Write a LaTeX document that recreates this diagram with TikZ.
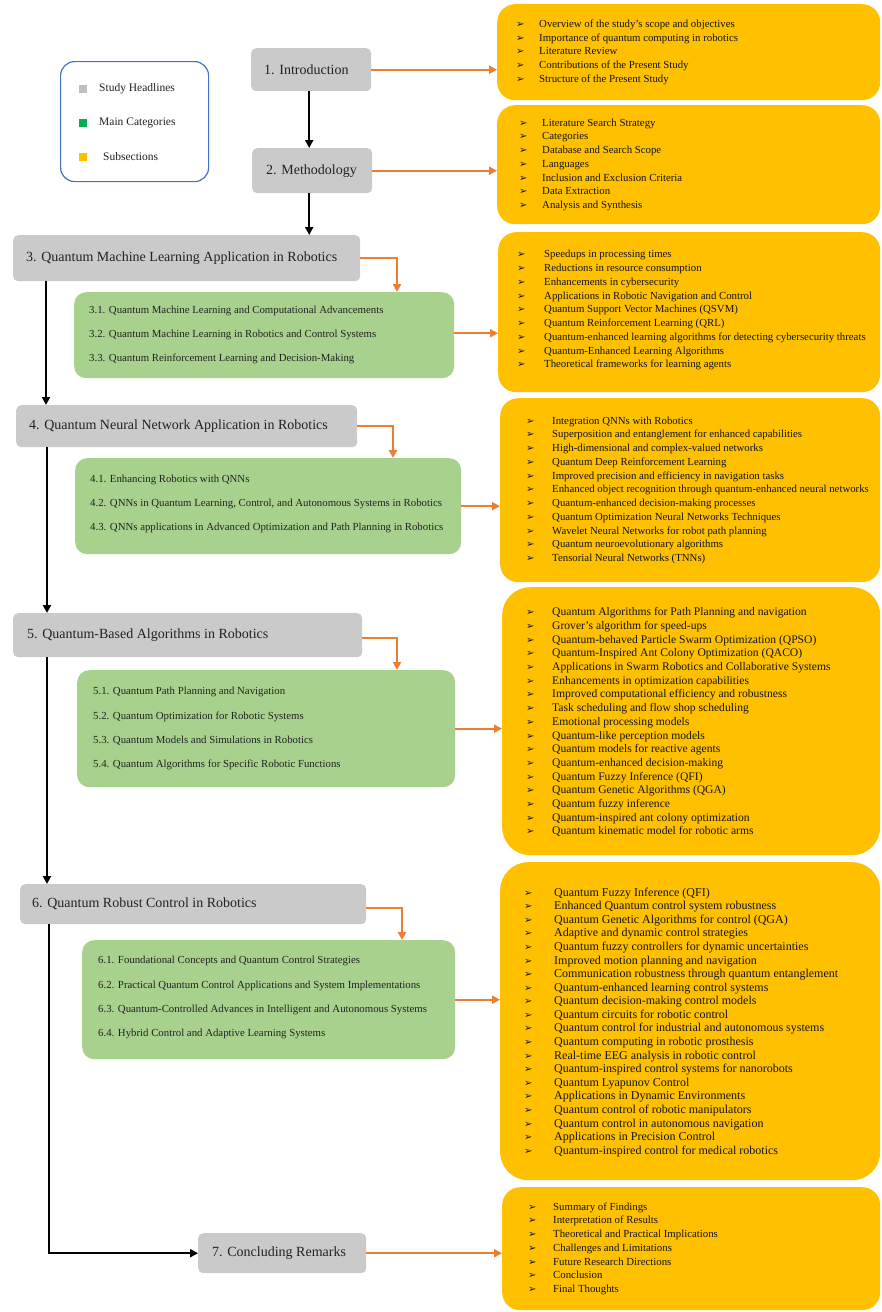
\documentclass[tikz,border=0pt]{standalone}
\usepackage{fontspec}
\setmainfont{Liberation Serif}
\newfontfamily\bulfont{DejaVu Sans}
\usetikzlibrary{arrows.meta}

\definecolor{hdgray}{HTML}{CACACA}
\definecolor{catgreen}{HTML}{A9D18E}
\definecolor{subamber}{HTML}{FFC000}
\definecolor{linkorange}{HTML}{ED7D31}
\definecolor{legblue}{HTML}{4472C4}
\definecolor{legsq}{HTML}{BFBFBF}
\definecolor{leggreen}{HTML}{00B050}
\definecolor{inkgray}{HTML}{222222}

% width reserved for the arrowhead bullet in front of each list entry
\newlength\bulw
\newcommand\itm{\makebox[\bulw][l]{\bulfont\fontsize{10}{10}\selectfont ➢}}

\tikzset{
  hbox/.style={fill=hdgray, rounded corners=5pt, inner sep=0pt, anchor=north west},
  gbox/.style={fill=catgreen, rounded corners=12pt, inner sep=0pt, anchor=north west},
  obox/.style={fill=subamber, rounded corners=18pt, inner sep=0pt, anchor=north west},
  htext/.style={font=\fontsize{14}{16}\selectfont, text=inkgray, anchor=west, inner sep=0pt},
  gtext/.style={font=\fontsize{10.8}{24.2}\selectfont, text=inkgray, align=left, anchor=west, inner sep=0pt},
  otext/.style={font=\fontsize{10.8}{13.75}\selectfont, text=black!92, align=left, anchor=west, inner sep=0pt},
  ltext/.style={font=\fontsize{11.5}{13}\selectfont, text=inkgray, anchor=west, inner sep=0pt},
  legsquare/.style={minimum size=8pt, inner sep=0pt},
  down/.style={black, line width=2pt, -{Triangle[length=8pt,width=8pt]}},
  link/.style={linkorange, line width=2.2pt, -{Triangle[length=8pt,width=8pt]}},
}

\begin{document}
\begin{tikzpicture}[x=1pt, y=-1pt]
\useasboundingbox (0,0) rectangle (882,1312);
\fill[white] (0,0) rectangle (882,1312);

% ---------- legend ----------
\node[draw=legblue, line width=1.2pt, rounded corners=14pt, minimum width=148pt,
      minimum height=120pt, anchor=north west] (legend) at (60,61) {};
\node[legsquare, fill=legsq]    (sqH) at (83,89)  {};
\node[legsquare, fill=leggreen] (sqC) at (83,123) {};
\node[legsquare, fill=subamber] (sqS) at (83,157) {};
\node[ltext] (lgH) at (99,89)  {Study Headlines};
\node[ltext] (lgC) at (99,123) {Main Categories};
\node[ltext] (lgS) at (103,157) {Subsections};

% ---------- study headlines ----------
\node[hbox, minimum width=120pt, minimum height=43pt] (intro) at (251,48) {};
\node[htext] (introT) at ([xshift=13pt]intro.west) {1. Introduction};
\node[hbox, minimum width=120pt, minimum height=45pt] (meth) at (252,148) {};
\node[htext] (methT) at ([xshift=14pt]meth.west) {2. Methodology};
\node[hbox, minimum width=347pt, minimum height=46pt] (b3) at (13,235) {};
\node[htext] (b3T) at ([xshift=13pt]b3.west) {3. Quantum Machine Learning Application in Robotics};
\node[hbox, minimum width=341pt, minimum height=42pt] (b4) at (16,405) {};
\node[htext] (b4T) at ([xshift=13pt]b4.west) {4. Quantum Neural Network Application in Robotics};
\node[hbox, minimum width=349pt, minimum height=44pt] (b5) at (13,613) {};
\node[htext] (b5T) at ([xshift=14pt]b5.west) {5. Quantum-Based Algorithms in Robotics};
\node[hbox, minimum width=346pt, minimum height=40pt] (b6) at (20,884) {};
\node[htext] (b6T) at ([xshift=12pt]b6.west) {6. Quantum Robust Control in Robotics};
\node[hbox, minimum width=168pt, minimum height=40pt] (b7) at (198,1233) {};
\node[htext] (b7T) at ([xshift=14pt]b7.west) {7. Concluding Remarks};

% ---------- main categories ----------
\node[gbox, minimum width=380pt, minimum height=86pt] (g3) at (74,292) {};
\node[gtext] (g3T) at ([xshift=15pt]g3.west) {%
3.1. Quantum Machine Learning and Computational Advancements\\
3.2. Quantum Machine Learning in Robotics and Control Systems\\
3.3. Quantum Reinforcement Learning and Decision-Making};

\node[gbox, minimum width=386pt, minimum height=96pt] (g4) at (75,458) {};
\node[gtext] (g4T) at ([xshift=15pt,yshift=2pt]g4.west) {%
4.1. Enhancing Robotics with QNNs\\
4.2. QNNs in Quantum Learning, Control, and Autonomous Systems in Robotics\\
4.3. QNNs applications in Advanced Optimization and Path Planning in Robotics};

\node[gbox, minimum width=378pt, minimum height=117pt] (g5) at (77,670) {};
\node[gtext] (g5T) at ([xshift=16pt]g5.west) {%
5.1. Quantum Path Planning and Navigation\\
5.2. Quantum Optimization for Robotic Systems\\
5.3. Quantum Models and Simulations in Robotics\\
5.4. Quantum Algorithms for Specific Robotic Functions};

\node[gbox, minimum width=373pt, minimum height=119pt] (g6) at (82,940) {};
\node[gtext] (g6T) at ([xshift=16pt,yshift=2pt]g6.west) {%
6.1. Foundational Concepts and Quantum Control Strategies\\
6.2. Practical Quantum Control Applications and System Implementations\\
6.3. Quantum-Controlled Advances in Intelligent and Autonomous Systems\\
6.4. Hybrid Control and Adaptive Learning Systems};

% ---------- subsections ----------
\node[obox, minimum width=383pt, minimum height=96pt] (o1) at (497,4) {};
\node[otext, execute at begin node={\setlength\bulw{23pt}}] (o1T) at ([xshift=19pt]o1.west) {%
\itm Overview of the study's scope and objectives\\
\itm Importance of quantum computing in robotics\\
\itm Literature Review\\
\itm Contributions of the Present Study\\
\itm Structure of the Present Study};

\node[obox, minimum width=383pt, minimum height=119pt] (o2) at (497,105) {};
\node[otext, execute at begin node={\setlength\bulw{23pt}}] (o2T) at ([xshift=22pt]o2.west) {%
\itm Literature Search Strategy\\
\itm Categories\\
\itm Database and Search Scope\\
\itm Languages\\
\itm Inclusion and Exclusion Criteria\\
\itm Data Extraction\\
\itm Analysis and Synthesis};

\node[obox, minimum width=382pt, minimum height=160pt] (o3) at (498,232) {};
\node[otext, execute at begin node={\setlength\bulw{27pt}}] (o3T) at ([xshift=19pt,yshift=2pt]o3.west) {%
\itm Speedups in processing times\\
\itm Reductions in resource consumption\\
\itm Enhancements in cybersecurity\\
\itm Applications in Robotic Navigation and Control\\
\itm Quantum Support Vector Machines (QSVM)\\
\itm Quantum Reinforcement Learning (QRL)\\
\itm Quantum-enhanced learning algorithms for detecting cybersecurity threats\\
\itm Quantum-Enhanced Learning Algorithms\\
\itm Theoretical frameworks for learning agents};

\node[obox, minimum width=380pt, minimum height=184pt] (o4) at (500,398) {};
\node[otext, execute at begin node={\setlength\bulw{26pt}}] (o4T) at ([xshift=26pt]o4.west) {%
\itm Integration QNNs with Robotics\\
\itm Superposition and entanglement for enhanced capabilities\\
\itm High-dimensional and complex-valued networks\\
\itm Quantum Deep Reinforcement Learning\\
\itm Improved precision and efficiency in navigation tasks\\
\itm Enhanced object recognition through quantum-enhanced neural networks\\
\itm Quantum-enhanced decision-making processes\\
\itm Quantum Optimization Neural Networks Techniques\\
\itm Wavelet Neural Networks for robot path planning\\
\itm Quantum neuroevolutionary algorithms\\
\itm Tensorial Neural Networks (TNNs)};

\node[obox, rounded corners=28pt, minimum width=378pt, minimum height=268pt] (o5) at (502,587) {};
\node[otext, font=\fontsize{11.6}{13.7}\selectfont, execute at begin node={\setlength\bulw{26pt}}] (o5T) at ([xshift=24pt,yshift=-1pt]o5.west) {%
\itm Quantum Algorithms for Path Planning and navigation\\
\itm Grover's algorithm for speed-ups\\
\itm Quantum-behaved Particle Swarm Optimization (QPSO)\\
\itm Quantum-Inspired Ant Colony Optimization (QACO)\\
\itm Applications in Swarm Robotics and Collaborative Systems\\
\itm Enhancements in optimization capabilities\\
\itm Improved computational efficiency and robustness\\
\itm Task scheduling and flow shop scheduling\\
\itm Emotional processing models\\
\itm Quantum-like perception models\\
\itm Quantum models for reactive agents\\
\itm Quantum-enhanced decision-making\\
\itm Quantum Fuzzy Inference (QFI)\\
\itm Quantum Genetic Algorithms (QGA)\\
\itm Quantum fuzzy inference\\
\itm Quantum-inspired ant colony optimization\\
\itm Quantum kinematic model for robotic arms};

\node[obox, rounded corners=28pt, minimum width=380pt, minimum height=318pt] (o6) at (500,862) {};
\node[otext, font=\fontsize{12}{13.58}\selectfont, execute at begin node={\setlength\bulw{30pt}}] (o6T) at ([xshift=24pt,yshift=-1pt]o6.west) {%
\itm Quantum Fuzzy Inference (QFI)\\
\itm Enhanced Quantum control system robustness\\
\itm Quantum Genetic Algorithms for control (QGA)\\
\itm Adaptive and dynamic control strategies\\
\itm Quantum fuzzy controllers for dynamic uncertainties\\
\itm Improved motion planning and navigation\\
\itm Communication robustness through quantum entanglement\\
\itm Quantum-enhanced learning control systems\\
\itm Quantum decision-making control models\\
\itm Quantum circuits for robotic control\\
\itm Quantum control for industrial and autonomous systems\\
\itm Quantum computing in robotic prosthesis\\
\itm Real-time EEG analysis in robotic control\\
\itm Quantum-inspired control systems for nanorobots\\
\itm Quantum Lyapunov Control\\
\itm Applications in Dynamic Environments\\
\itm Quantum control of robotic manipulators\\
\itm Quantum control in autonomous navigation\\
\itm Applications in Precision Control\\
\itm Quantum-inspired control for medical robotics};

\node[obox, minimum width=378pt, minimum height=123pt] (o7) at (502,1187) {};
\node[otext, execute at begin node={\setlength\bulw{25pt}}] (o7T) at ([xshift=26pt]o7.west) {%
\itm Summary of Findings\\
\itm Interpretation of Results\\
\itm Theoretical and Practical Implications\\
\itm Challenges and Limitations\\
\itm Future Research Directions\\
\itm Conclusion\\
\itm Final Thoughts};

% ---------- flow between the study headlines ----------
\draw[down] ([xshift=-2pt]intro.south) -- ([xshift=-2pt]intro.south |- meth.north);
\draw[down] ([xshift=-3pt]meth.south) -- ([xshift=-3pt]meth.south |- b3.north);
\draw[down] ([xshift=33pt]b3.south west) -- ([xshift=33pt]b3.south west |- b4.north);
\draw[down] ([xshift=31pt]b4.south west) -- ([xshift=31pt]b4.south west |- b5.north);
\draw[down] ([xshift=34pt]b5.south west) -- ([xshift=34pt]b5.south west |- b6.north);
\draw[down] ([xshift=29pt]b6.south west) |- (b7.west);

% ---------- headline to category ----------
\draw[link] (b3.east) -| ([xshift=323pt]g3.north west);
\draw[link] (b4.east) -| ([xshift=318pt]g4.north west);
\draw[link] ([yshift=-3pt]b5.east) -| ([xshift=320pt]g5.north west);
\draw[link] ([yshift=-4pt]b6.east) -| ([xshift=320pt]g6.north west);

% ---------- to the subsection lists ----------
\draw[link] (intro.east) -- (intro.east -| o1.west);
\draw[link] (meth.east) -- (meth.east -| o2.west);
\draw[link] ([yshift=2pt]g3.east) -- ([yshift=2pt]g3.east -| o3.west);
\draw[link] (g4.east) -- (g4.east -| o4.west);
\draw[link] (g5.east) -- (g5.east -| o5.west);
\draw[link] (g6.east) -- (g6.east -| o6.west);
\draw[link] (b7.east) -- (b7.east -| o7.west);
\end{tikzpicture}
\end{document}
